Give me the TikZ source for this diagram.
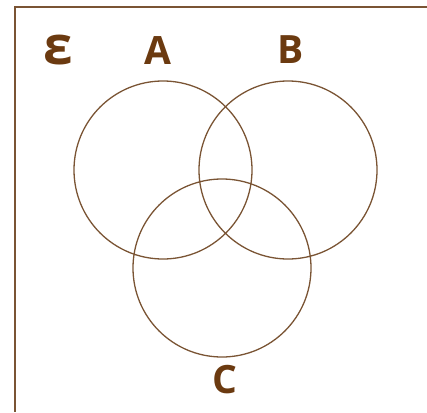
\documentclass[tikz,border=0pt]{standalone}
\usepackage{fontspec}
\setmainfont{Open Sans}
\usepackage{xcolor}
\definecolor{setline}{HTML}{7A5434}
\definecolor{setlabel}{HTML}{6B3A10}
\usetikzlibrary{positioning}

\begin{document}
\begin{tikzpicture}[x=1pt, y=-1pt,
    setcirc/.style={draw=setline, line width=1.3pt, circle, minimum size=178pt, inner sep=0pt},
    setname/.style={text=setlabel, font=\fontsize{39}{40}\selectfont\bfseries, inner sep=0pt}]
                    \useasboundingbox (0,0) rectangle (427,412);
                    % universe frame
                    \coordinate (topright) at (427,7);
                    \coordinate (corner) at (15,7);
                    \coordinate (bottomleft) at (15,412);
                    \draw[setline, line width=1.5pt] (topright) -- (corner) -- (bottomleft);
                    % sets
                    \node[setcirc] (setA) at (163,170) {};
                    \node[setcirc] (setB) at (288,170) {};
                    \node[setcirc] (setC) at (222,268) {};
                    % labels
                    \node[setname, font=\fontsize{53}{54}\selectfont\bfseries] (universe) at (58,50) {ε};
                    \node[setname] (labelA) at (158,51) {A};
                    \node[setname] (labelB) at (291,50) {B};
                    \node[setname] (labelC) at (225,380) {C};
                \end{tikzpicture}
\end{document}
